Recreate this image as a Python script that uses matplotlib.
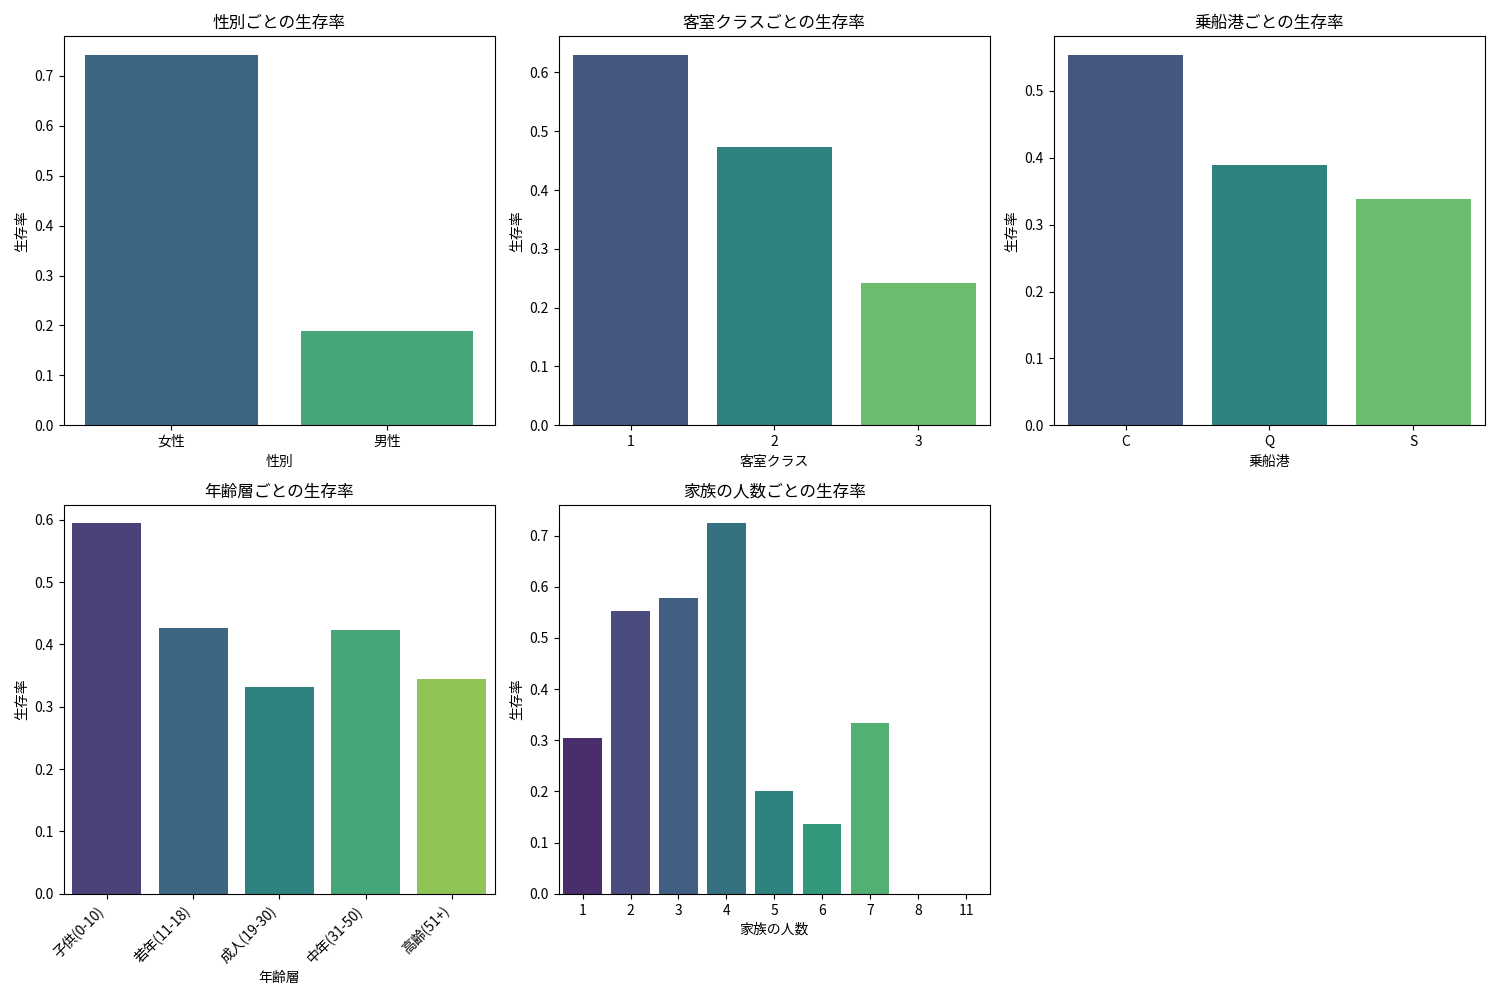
import matplotlib
matplotlib.use('Agg')
from matplotlib import pyplot as plt
import seaborn as sns

# 生存率 (Titanic)
sex_labels = ['女性', '男性']
sex_rate = [0.742, 0.189]

pclass_labels = ['1', '2', '3']
pclass_rate = [0.630, 0.473, 0.242]

embarked_labels = ['C', 'Q', 'S']
embarked_rate = [0.554, 0.390, 0.339]

age_labels = ['子供(0-10)', '若年(11-18)', '成人(19-30)', '中年(31-50)', '高齢(51+)']
age_rate = [0.594, 0.426, 0.331, 0.423, 0.344]

family_labels = ['1', '2', '3', '4', '5', '6', '7', '8', '11']
family_rate = [0.304, 0.553, 0.578, 0.724, 0.200, 0.136, 0.333, 0.0, 0.0]

plt.rcParams['font.family'] = ['Noto Sans CJK JP', 'DejaVu Sans']

fig, axes = plt.subplots(2, 3, figsize=(15, 10))

panels = [
    (axes[0, 0], sex_labels, sex_rate, '性別ごとの生存率', '性別'),
    (axes[0, 1], pclass_labels, pclass_rate, '客室クラスごとの生存率', '客室クラス'),
    (axes[0, 2], embarked_labels, embarked_rate, '乗船港ごとの生存率', '乗船港'),
    (axes[1, 0], age_labels, age_rate, '年齢層ごとの生存率', '年齢層'),
    (axes[1, 1], family_labels, family_rate, '家族の人数ごとの生存率', '家族の人数'),
]

for ax, labels, rates, title, xlabel in panels:
    sns.barplot(x=labels, y=rates, hue=labels, palette='viridis',
                legend=False, ax=ax)
    ax.set_title(title)
    ax.set_xlabel(xlabel)
    ax.set_ylabel('生存率')

plt.setp(axes[1, 0].get_xticklabels(), rotation=45, ha='right')
axes[1, 2].axis('off')

plt.tight_layout()
plt.savefig('out.png', dpi=100)
